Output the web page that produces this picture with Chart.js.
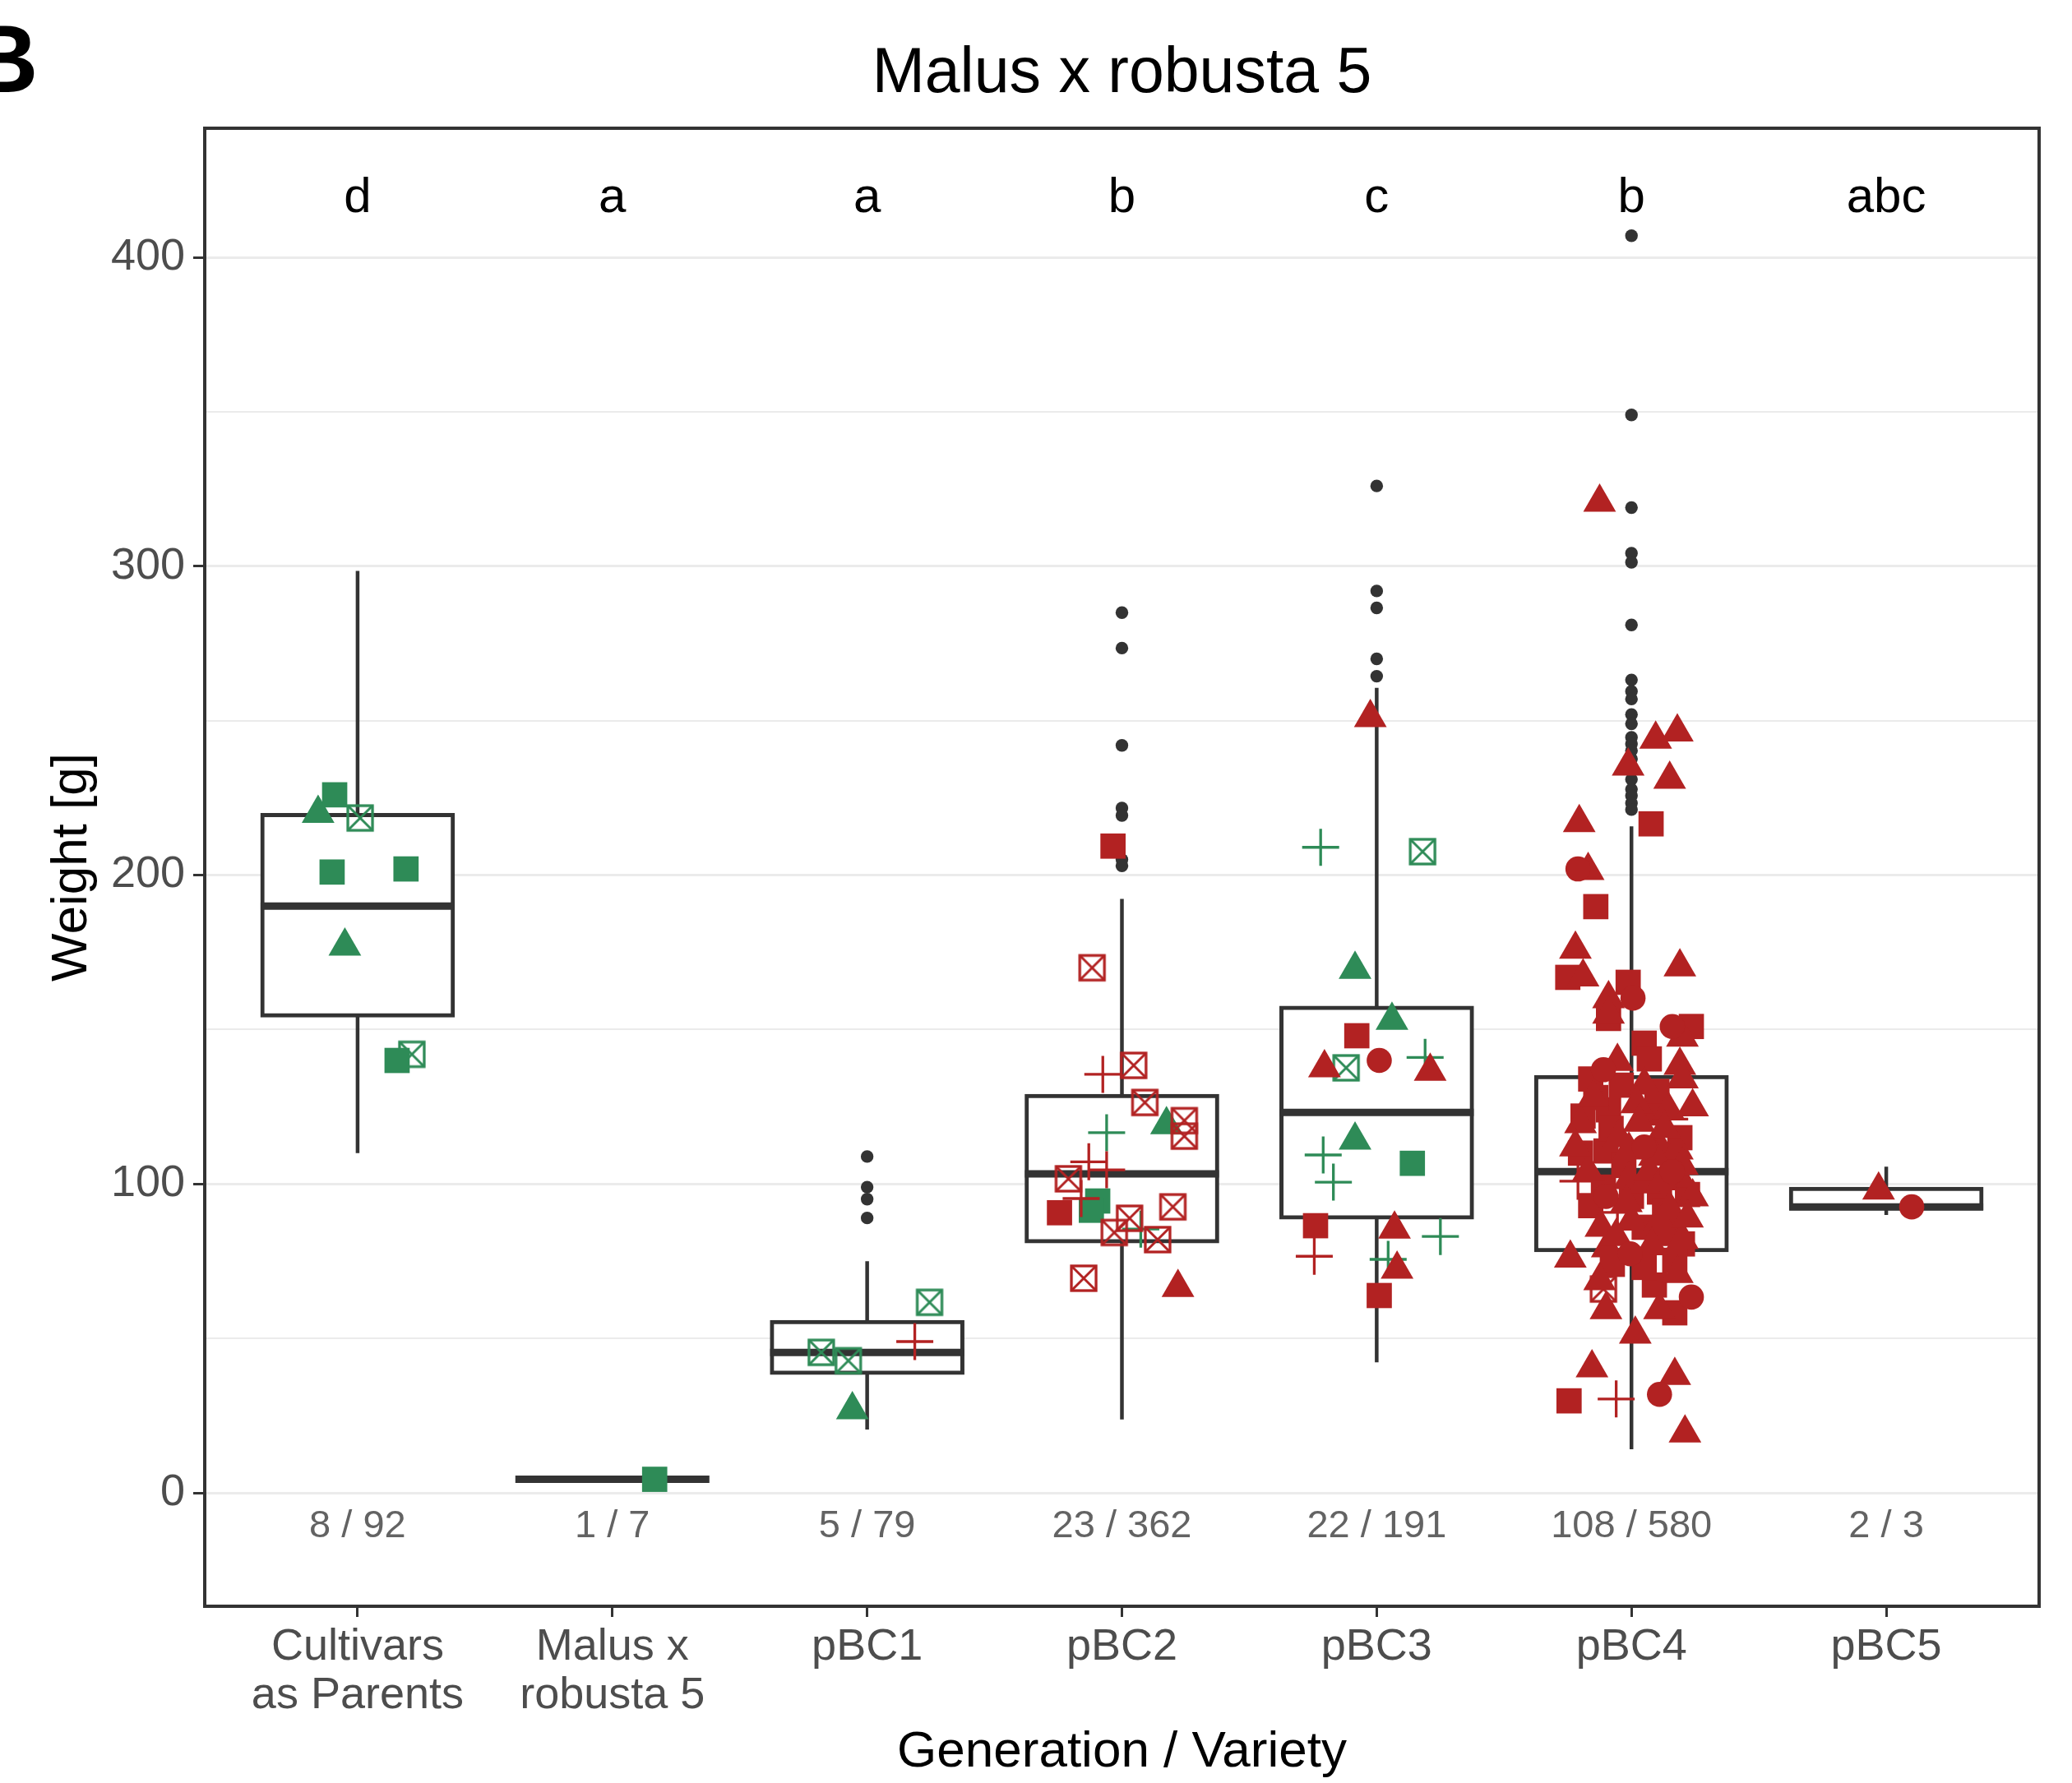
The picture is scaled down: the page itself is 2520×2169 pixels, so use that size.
<!DOCTYPE html>
<html>
<head>
<meta charset="utf-8">
<title>Malus x robusta 5</title>
<script src="https://cdn.jsdelivr.net/npm/chart.js@4.4.1/dist/chart.umd.min.js"></script>
<style>
  html, body { margin: 0; padding: 0; background: #fff; }
  #wrap { width: 2520px; height: 2169px; }
</style>
</head>
<body>
<div id="wrap"><canvas id="boxChart" width="2520" height="2169"></canvas></div>
<script>
const categories = [['Cultivars', 'as Parents'], ['Malus x', 'robusta 5'], 'pBC1', 'pBC2', 'pBC3', 'pBC4', 'pBC5'];
const letters = ['d', 'a', 'a', 'b', 'c', 'b', 'abc'];
const counts = ['8 / 92', '1 / 7', '5 / 79', '23 / 362', '22 / 191', '108 / 580', '2 / 3'];
const yMajorTicks = [0, 100, 200, 300, 400];
const yMinorTicks = [50, 150, 250, 350];

// box statistics per category
const whiskerLow  = [110, 4.4, 20.5, 23.8, 42.3, 14.1, 90.0];
const boxQ1       = [154, 4.4, 38.3, 80.9, 88.6, 78.0, 91.5];
const boxMedian   = [190, 4.4, 45.5, 103.3, 123.2, 104.0, 92.6];
const boxQ3       = [220, 4.4, 55.9, 129.1, 157.6, 135.2, 99.0];
const whiskerHigh = [298.5, 4.4, 75.0, 192.3, 260.6, 215.8, 105.6];

const outliers = [
  [], [],
  [108.9, 99, 95.1, 89],
  [285, 273.5, 242, 221.7, 219.3, 205, 203],
  [326, 292, 286.5, 270, 264.4],
  [407, 349, 319, 304.2, 301.3, 281, 263.2, 259.5, 257, 252, 249, 244.6, 242.5, 240.3, 237.6, 234, 231, 227.8, 225.7, 223.3, 221.2],
  []
];

// genotyped plants: [category, jitter, weight]
const greenSquare = [
  [1, -0.09, 226], [1, -0.1, 201], [1, 0.19, 202], [1, 0.155, 140],
  [2, 0.166, 4.4],
  [4, -0.095, 94.5], [4, -0.12, 91.5],
  [5, 0.14, 106.7]
];
const greenTriangle = [
  [1, -0.155, 220], [1, -0.05, 177],
  [3, -0.058, 26.9],
  [4, 0.175, 119.2],
  [5, -0.085, 169.5], [5, 0.06, 153], [5, -0.085, 114.2]
];
const greenCrossbox = [
  [1, 0.01, 218.5], [1, 0.213, 142],
  [3, 0.245, 61.7], [3, -0.18, 45.5], [3, -0.074, 42.8],
  [5, 0.18, 207.6], [5, -0.12, 137.6]
];
const greenPlus = [
  [4, -0.06, 116.6], [4, 0.074, 85.4],
  [5, -0.22, 209], [5, 0.19, 141], [5, -0.21, 109.4], [5, -0.17, 100.6], [5, 0.25, 83], [5, 0.045, 75.6]
];
const redSquare = [
  [4, -0.245, 90.7], [4, -0.035, 209.4],
  [5, -0.078, 148], [5, -0.24, 86.5], [5, 0.01, 63.9],
  [6, 0.077, 216.6], [6, -0.14, 189.8], [6, -0.25, 166.9], [6, -0.013, 165.3], [6, -0.09, 153.6], [6, 0.235, 151],
  [6, 0.05, 145.6], [6, 0.07, 140.5], [6, -0.19, 122], [6, -0.09, 124], [6, -0.04, 132], [6, 0.085, 123],
  [6, -0.2, 110], [6, -0.1, 110.7], [6, -0.11, 99], [6, 0.11, 97.4], [6, 0.22, 96.6], [6, 0.05, 86],
  [6, 0.2, 80.6], [6, -0.075, 74], [6, 0.17, 75.3], [6, 0.09, 67.3], [6, 0.17, 58.3], [6, -0.245, 29.8],
  [6, -0.14, 128], [6, 0.1, 130], [6, 0.17, 107], [6, -0.03, 106], [6, 0.13, 91], [6, -0.16, 93],
  [6, 0.05, 73], [6, 0.14, 84], [6, -0.08, 118], [6, 0, 96], [6, 0.19, 115], [6, -0.16, 134]
];
const redTriangle = [
  [4, 0.22, 66.5],
  [5, -0.025, 251], [5, -0.205, 137.6], [5, 0.21, 136.5], [5, 0.07, 85.4], [5, 0.08, 72.4],
  [6, -0.125, 320.7], [6, 0.095, 244], [6, 0.18, 246.3], [6, -0.013, 235.3], [6, 0.15, 231], [6, -0.205, 217],
  [6, -0.17, 201.5], [6, -0.22, 176], [6, -0.19, 167], [6, 0.19, 170.3], [6, -0.09, 160], [6, -0.09, 155],
  [6, 0.2, 147.5], [6, -0.055, 139.7], [6, 0.19, 138.4],
  [6, -0.2, 119.5], [6, 0.05, 132], [6, 0.2, 134], [6, 0.145, 124], [6, -0.01, 111], [6, 0.1, 113.4],
  [6, 0.18, 111], [6, -0.01, 101.4], [6, 0.05, 100], [6, 0.19, 102], [6, 0.24, 95.8], [6, 0, 88],
  [6, 0.11, 88], [6, -0.095, 79.3], [6, 0.2, 82], [6, -0.24, 76], [6, -0.125, 68.7], [6, 0.11, 59.3],
  [6, -0.1, 59.3], [6, 0.015, 51.4], [6, -0.155, 40.5], [6, 0.17, 38], [6, 0.21, 19.4],
  [6, -0.15, 128], [6, 0.02, 126], [6, 0.13, 118], [6, -0.05, 115], [6, 0.2, 106], [6, 0.07, 104],
  [6, -0.17, 104], [6, 0.15, 92], [6, -0.02, 94], [6, 0.22, 89], [6, -0.12, 86], [6, 0.08, 80],
  [6, -0.06, 83], [6, 0.18, 71], [6, 0.12, 101], [6, 0.03, 120], [6, -0.22, 112], [6, 0.24, 125], [6, 0.09, 109],
  [7, -0.03, 98]
];
const redCrossbox = [
  [4, -0.117, 170], [4, 0.046, 138.4], [4, 0.09, 126.4], [4, 0.245, 120.5], [4, 0.245, 115.5], [4, -0.21, 101.7],
  [4, 0.2, 92.6], [4, 0.03, 88.9], [4, -0.03, 84.3], [4, 0.14, 82], [4, -0.15, 69.5],
  [6, -0.11, 66]
];
const redPlus = [
  [3, 0.187, 49],
  [4, -0.075, 135.5], [4, -0.13, 107.2], [4, -0.06, 104.6], [4, -0.16, 95.3],
  [5, -0.245, 76.6],
  [6, -0.21, 100.9], [6, -0.055, 90.8], [6, -0.06, 30.4], [6, 0.15, 121]
];
const redCircle = [
  [5, 0.01, 140],
  [6, -0.21, 202], [6, 0.006, 160.2], [6, 0.16, 151], [6, -0.11, 137], [6, -0.005, 77.4], [6, 0.235, 63.4],
  [6, 0.11, 31.9], [6, 0.16, 104], [6, -0.1, 96], [6, 0.05, 112],
  [7, 0.1, 92.6]
];

const GREEN = '#2E8B57';
const RED = '#B22222';
const DARK = '#333333';
const FONT = '"Liberation Sans", Arial, Helvetica, sans-serif';
const letterY = 414.6;
const countY = -14.4;

function toPoints(arr) {
  return arr.map(([c, j, v]) => ({ x: c + j, y: v }));
}

// square with an X through it (ggplot shape 7)
function crossboxStyle(color) {
  const c = document.createElement('canvas');
  c.width = 36; c.height = 36;
  const g = c.getContext('2d');
  g.strokeStyle = color;
  g.lineWidth = 3.3;
  g.strokeRect(3, 3, 30, 30);
  g.lineWidth = 3;
  g.beginPath();
  g.moveTo(3, 3); g.lineTo(33, 33);
  g.moveTo(33, 3); g.lineTo(3, 33);
  g.stroke();
  return c;
}

function pointSet(arr, color, style, radius) {
  const isStroke = style === 'cross';
  return {
    type: 'scatter',
    data: toPoints(arr),
    order: 1,
    pointStyle: style,
    pointRadius: radius,
    pointHoverRadius: radius,
    pointBackgroundColor: color,
    pointBorderColor: color,
    pointBorderWidth: isStroke ? 3.3 : 0
  };
}

const whiskerData = [];
categories.forEach((c, i) => {
  whiskerData.push({ x: i + 1, y: whiskerLow[i] }, { x: i + 1, y: whiskerHigh[i] }, { x: i + 1, y: null });
});

const outlierData = [];
outliers.forEach((list, i) => list.forEach(v => outlierData.push({ x: i + 1, y: v })));

const annotations = {
  id: 'annotations',
  afterDatasetsDraw(chart) {
    const { ctx, chartArea: a, scales: { x, y } } = chart;
    ctx.save();
    ctx.strokeStyle = DARK;
    ctx.lineWidth = 4;
    ctx.strokeRect(a.left, a.top, a.right - a.left, a.bottom - a.top);

    ctx.textAlign = 'center';
    ctx.textBaseline = 'alphabetic';
    ctx.fillStyle = '#000';
    ctx.font = '60px ' + FONT;
    letters.forEach((t, i) => ctx.fillText(t, x.getPixelForValue(i + 1), y.getPixelForValue(letterY)));

    ctx.fillStyle = '#636363';
    ctx.font = '47px ' + FONT;
    counts.forEach((t, i) => ctx.fillText(t, x.getPixelForValue(i + 1), y.getPixelForValue(countY)));
    ctx.restore();
  },
  afterDraw(chart) {
    const { ctx, chartArea: a } = chart;
    ctx.save();
    ctx.fillStyle = '#000';
    ctx.textBaseline = 'alphabetic';
    ctx.textAlign = 'center';
    ctx.font = '77px ' + FONT;
    ctx.fillText('Malus x robusta 5', (a.left + a.right) / 2, 112);
    ctx.textAlign = 'left';
    ctx.font = 'bold 117px ' + FONT;
    ctx.fillText('B', -38, 112);
    ctx.restore();
  }
};

document.addEventListener('DOMContentLoaded', function () {
  Chart.defaults.font.family = FONT;
  const chartContext = document.getElementById('boxChart').getContext('2d');

  new Chart(chartContext, {
    type: 'scatter',
    data: {
      datasets: [
        {
          type: 'line',
          data: whiskerData,
          order: 50,
          borderColor: DARK,
          borderWidth: 4.5,
          pointRadius: 0,
          spanGaps: false,
          fill: false
        },
        {
          type: 'bar',
          data: categories.map((c, i) => ({ x: i + 1, y: [boxQ1[i], boxQ3[i]] })),
          order: 40,
          backgroundColor: '#ffffff',
          borderColor: DARK,
          borderWidth: 5,
          borderSkipped: false,
          barThickness: 236
        },
        {
          type: 'scatter',
          data: boxMedian.map((m, i) => ({ x: i + 1, y: m })),
          order: 30,
          pointStyle: 'line',
          pointRadius: 118,
          pointHoverRadius: 118,
          pointBorderColor: DARK,
          pointBorderWidth: 9
        },
        {
          type: 'scatter',
          data: outlierData,
          order: 20,
          pointStyle: 'circle',
          pointRadius: 7.7,
          pointBackgroundColor: DARK,
          pointBorderWidth: 0
        },
        pointSet(redCircle, RED, 'circle', 15.3),
        pointSet(redTriangle, RED, 'triangle', 23),
        pointSet(redSquare, RED, 'rect', 21.7),
        pointSet(redPlus, RED, 'cross', 22.5),
        pointSet(redCrossbox, RED, crossboxStyle(RED), 17),
        pointSet(greenTriangle, GREEN, 'triangle', 23),
        pointSet(greenSquare, GREEN, 'rect', 21.7),
        pointSet(greenPlus, GREEN, 'cross', 22.5),
        pointSet(greenCrossbox, GREEN, crossboxStyle(GREEN), 17)
      ]
    },
    options: {
      responsive: false,
      animation: false,
      devicePixelRatio: 1,
      layout: { autoPadding: false, padding: { top: 156, left: 0, right: 40, bottom: 0 } },
      plugins: { legend: { display: false }, tooltip: { enabled: false } },
      scales: {
        x: {
          type: 'linear',
          min: 0.4,
          max: 7.6,
          offset: false,
          afterBuildTicks: s => { s.ticks = categories.map((c, i) => ({ value: i + 1 })); },
          afterFit: s => {
            s.height = 215;
            s.paddingLeft = 0;
            s.paddingRight = 0;
          },
          ticks: {
            callback: v => categories[v - 1],
            autoSkip: false,
            maxRotation: 0,
            color: '#4D4D4D',
            font: { size: 54, lineHeight: 1.1 },
            padding: 7
          },
          grid: { offset: false, drawOnChartArea: false, tickLength: 13, tickColor: DARK, tickWidth: 3 },
          border: { display: false },
          title: {
            display: true,
            text: 'Generation / Variety',
            color: '#000',
            font: { size: 62 },
            padding: { top: 0, bottom: 0 }
          }
        },
        y: {
          type: 'linear',
          min: -36.7,
          max: 441.8,
          afterBuildTicks: s => {
            s.ticks = yMajorTicks.concat(yMinorTicks).sort((p, q) => p - q).map(v => ({ value: v }));
          },
          afterFit: s => {
            s.width = 249;
            s.paddingTop = 0;
            s.paddingBottom = 0;
          },
          ticks: {
            callback: v => yMajorTicks.includes(v) ? String(v) : '',
            color: '#4D4D4D',
            font: { size: 54 },
            padding: 10
          },
          grid: {
            color: '#EBEBEB',
            lineWidth: ctx => yMajorTicks.includes(ctx.tick.value) ? 3 : 2,
            tickLength: 14,
            tickWidth: 3,
            tickColor: ctx => yMajorTicks.includes(ctx.tick.value) ? DARK : 'rgba(0,0,0,0)'
          },
          border: { display: false },
          title: {
            display: true,
            text: 'Weight [g]',
            color: '#000',
            font: { size: 62 },
            padding: { top: 51, bottom: 0 }
          }
        }
      }
    },
    plugins: [annotations]
  });
});
</script>
</body>
</html>
